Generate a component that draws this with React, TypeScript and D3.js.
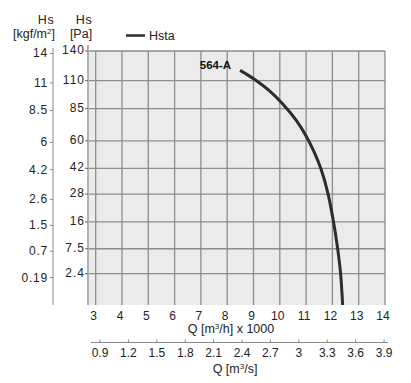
import React from "react";
import * as d3 from "d3";

// Data
const Q_THOUSAND_M3H = [8.49, 8.99, 9.63, 10.13, 10.64, 11.0, 11.3, 11.58, 11.83, 12.03, 12.19, 12.31, 12.39];
const HS_PA = [120, 112, 100, 88.5, 75, 63.5, 52.5, 41, 28.4, 16.7, 8.0, 2.5, 0];
const PA_TICKS = [140, 110, 85, 60, 42, 28, 16, 7.5, 2.4];
const KGF_TICKS = [14, 11, 8.5, 6, 4.2, 2.6, 1.5, 0.7, 0.19];
const Q_TICKS = [3, 4, 5, 6, 7, 8, 9, 10, 11, 12, 13, 14];
const QS_TICKS = [0.9, 1.2, 1.5, 1.8, 2.1, 2.4, 2.7, 3, 3.3, 3.6, 3.9];
const CURVE_LABEL = "564-A";
const LEGEND_LABEL = "Hsta";

const W = 411;
const H = 383;
const PLOT = { left: 89, right: 385, top: 51, bottom: 305 };
const FONT = "'Liberation Sans', Arial, sans-serif";

export default function App() {
  const x = d3.scaleLinear().domain([3, 14]).range([95.7, PLOT.right]);
  const y = d3.scalePow().exponent(0.515).domain([0, 140]).range([PLOT.bottom, PLOT.top]);
  const KGF_TO_PA = 9.81;
  const M3S_TO_KM3H = 3.6;

  const pts: [number, number][] = Q_THOUSAND_M3H.map((q, i) => [q, HS_PA[i]]);
  const line = d3
    .line<[number, number]>()
    .x((d) => x(d[0]))
    .y((d) => y(d[1]))
    .curve(d3.curveCatmullRom.alpha(0.5));

  const gridColor = "#8c8c8c";
  const textColor = "#222";
  const axis2Y = 342.5;

  return (
    <svg width={W} height={H} style={{ position: "absolute", left: 0, top: 0 }} fontFamily={FONT}>
      <rect x={0} y={0} width={W} height={H} fill="#fff" />

      {/* headers */}
      <text x={46} y={24} fontSize={12.5} textAnchor="middle" fill={textColor} letterSpacing={0.5}>Hs</text>
      <text x={34} y={37.5} fontSize={12.5} textAnchor="middle" fill={textColor}>
        [kgf/m<tspan fontSize={8} dy={-4}>2</tspan><tspan dy={4}>]</tspan>
      </text>
      <text x={84} y={24} fontSize={12.5} textAnchor="middle" fill={textColor} letterSpacing={0.5}>Hs</text>
      <text x={81} y={37.5} fontSize={12.5} textAnchor="middle" fill={textColor}>[Pa]</text>

      {/* legend */}
      <line x1={126} x2={145} y1={35.5} y2={35.5} stroke="#2b2b33" strokeWidth={2.5} />
      <text x={149} y={40} fontSize={12.5} fill={textColor}>{LEGEND_LABEL}</text>

      {/* plot background */}
      <rect x={PLOT.left} y={PLOT.top} width={PLOT.right - PLOT.left} height={PLOT.bottom - PLOT.top} fill="#ebebeb" />

      {/* horizontal grid */}
      {PA_TICKS.map((v) => (
        <line key={"h" + v} x1={PLOT.left} x2={PLOT.right} y1={y(v)} y2={y(v)} stroke={gridColor} strokeWidth={1.3} />
      ))}
      {/* vertical grid */}
      {Q_TICKS.map((v) => (
        <line key={"v" + v} x1={x(v)} x2={x(v)} y1={PLOT.top} y2={PLOT.bottom} stroke={gridColor} strokeWidth={1.3} />
      ))}

      {/* Pa axis */}
      <line x1={PLOT.left - 1} x2={PLOT.left - 1} y1={45} y2={PLOT.bottom} stroke="#666" strokeWidth={1} />
      {PA_TICKS.map((v) => (
        <g key={"pa" + v}>
          <line x1={PLOT.left - 4} x2={PLOT.left - 1} y1={y(v)} y2={y(v)} stroke="#666" />
          <text x={PLOT.left - 4} y={y(v) + 3} fontSize={12} textAnchor="end" fill={textColor} letterSpacing={1}>
            {v}
          </text>
        </g>
      ))}

      {/* kgf axis */}
      <line x1={53} x2={53} y1={48} y2={PLOT.bottom} stroke="#888" strokeWidth={1} />
      {KGF_TICKS.map((v) => (
        <g key={"kg" + v}>
          <line x1={50} x2={53} y1={y(v * KGF_TO_PA)} y2={y(v * KGF_TO_PA)} stroke="#888" />
          <text x={48} y={y(v * KGF_TO_PA) + 4} fontSize={12} textAnchor="end" fill={textColor} letterSpacing={0.8}>
            {v}
          </text>
        </g>
      ))}

      {/* curve */}
      <path d={line(pts) || ""} fill="none" stroke="#2b2b33" strokeWidth={3} />
      <text
        x={x(pts[0][0]) - 9}
        y={y(pts[0][1]) - 1}
        fontSize={11.5}
        fontWeight="bold"
        textAnchor="end"
        fill="#111"
      >
        {CURVE_LABEL}
      </text>

      {/* bottom axis m3/h */}
      {Q_TICKS.map((v) => (
        <text key={"xt" + v} x={x(v) - 2} y={320} fontSize={12} textAnchor="middle" fill={textColor}>
          {v}
        </text>
      ))}
      <text x={231} y={332.5} fontSize={12.5} textAnchor="middle" fill={textColor}>
        Q [m<tspan fontSize={8} dy={-4}>3</tspan><tspan dy={4}>/h] x 1000</tspan>
      </text>

      {/* second axis m3/s */}
      <line x1={91} x2={388} y1={axis2Y} y2={axis2Y} stroke="#888" strokeWidth={1} />
      {QS_TICKS.map((v) => (
        <g key={"qs" + v}>
          <line x1={x(v * M3S_TO_KM3H) - 2} x2={x(v * M3S_TO_KM3H) - 2} y1={axis2Y - 3} y2={axis2Y} stroke="#888" />
          <text x={x(v * M3S_TO_KM3H) - 2} y={357} fontSize={12} textAnchor="middle" fill={textColor}>
            {v}
          </text>
        </g>
      ))}
      <text x={235} y={373} fontSize={12.5} textAnchor="middle" fill={textColor}>
        Q [m<tspan fontSize={8} dy={-4}>3</tspan><tspan dy={4}>/s]</tspan>
      </text>
    </svg>
  );
}
